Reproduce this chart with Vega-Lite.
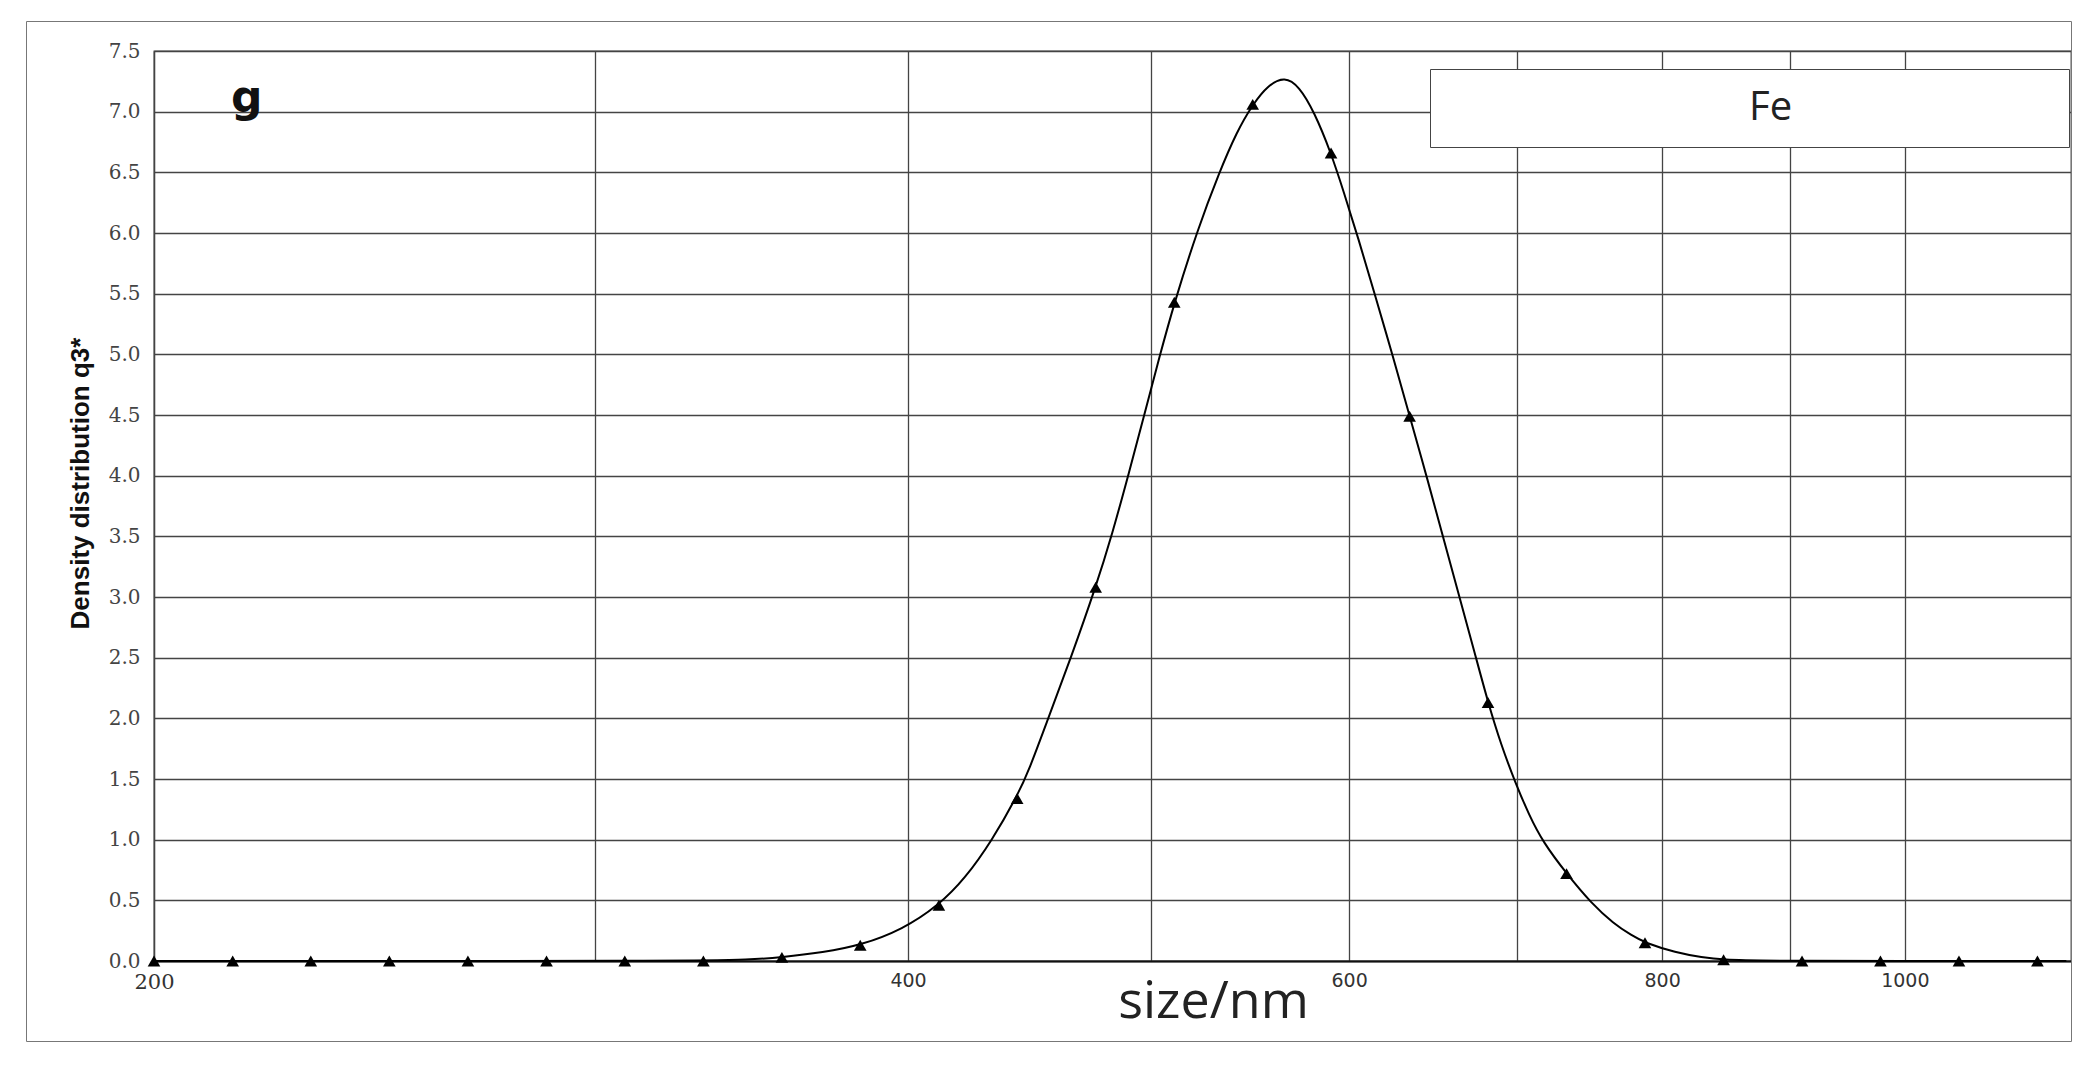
{
  "$schema": "https://vega.github.io/schema/vega-lite/v6.json",
  "width": 1917,
  "height": 910,
  "autosize": {"type": "none"},
  "padding": {"left": 154, "top": 51, "right": 27, "bottom": 108},
  "background": "white",
  "config": {
    "view": {"stroke": "#444", "strokeWidth": 1.3}
  },
  "title": {
    "text": "g",
    "anchor": "start",
    "frame": "group",
    "orient": "top",
    "font": "DejaVu Sans",
    "fontWeight": "bold",
    "fontSize": 44,
    "color": "#111",
    "dx": 77,
    "dy": 135,
    "offset": 0,
    "baseline": "alphabetic"
  },
  "datasets": {
    "curve": [
      {"size": 200, "q3": 0}, {"size": 331, "q3": 0}, {"size": 345, "q3": 0.01},
      {"size": 356, "q3": 0.03}, {"size": 370, "q3": 0.07}, {"size": 383, "q3": 0.13},
      {"size": 398, "q3": 0.26}, {"size": 411.5, "q3": 0.46}, {"size": 421.5, "q3": 0.68},
      {"size": 432, "q3": 0.99}, {"size": 442.2, "q3": 1.36}, {"size": 447, "q3": 1.57},
      {"size": 455, "q3": 2.0}, {"size": 464.6, "q3": 2.5}, {"size": 475.3, "q3": 3.08},
      {"size": 482.6, "q3": 3.52}, {"size": 490, "q3": 4.02}, {"size": 497, "q3": 4.5},
      {"size": 504, "q3": 4.98}, {"size": 511, "q3": 5.43}, {"size": 522, "q3": 6.03},
      {"size": 532.5, "q3": 6.5}, {"size": 541, "q3": 6.83}, {"size": 549.1, "q3": 7.06},
      {"size": 557, "q3": 7.22}, {"size": 565.5, "q3": 7.29}, {"size": 573, "q3": 7.21},
      {"size": 581, "q3": 7.0}, {"size": 590.1, "q3": 6.66}, {"size": 597, "q3": 6.34},
      {"size": 605, "q3": 5.96}, {"size": 614.6, "q3": 5.48}, {"size": 624.7, "q3": 4.98},
      {"size": 634.3, "q3": 4.49}, {"size": 645, "q3": 3.96}, {"size": 655, "q3": 3.45},
      {"size": 664, "q3": 3.0}, {"size": 673, "q3": 2.56}, {"size": 681.7, "q3": 2.13},
      {"size": 690, "q3": 1.78}, {"size": 699, "q3": 1.47}, {"size": 708, "q3": 1.2},
      {"size": 717, "q3": 0.98}, {"size": 732.7, "q3": 0.72}, {"size": 750, "q3": 0.47},
      {"size": 765, "q3": 0.31}, {"size": 778, "q3": 0.21}, {"size": 787.5, "q3": 0.15},
      {"size": 810, "q3": 0.07}, {"size": 830, "q3": 0.03}, {"size": 846.5, "q3": 0.01},
      {"size": 875, "q3": 0}, {"size": 1160, "q3": 0}
    ],
    "markers": [
      {"size": 200, "q3": 0}, {"size": 215, "q3": 0}, {"size": 231, "q3": 0},
      {"size": 248.3, "q3": 0}, {"size": 266.9, "q3": 0}, {"size": 286.9, "q3": 0},
      {"size": 308.3, "q3": 0}, {"size": 331.4, "q3": 0}, {"size": 356.2, "q3": 0.03},
      {"size": 382.8, "q3": 0.13}, {"size": 411.5, "q3": 0.46}, {"size": 442.2, "q3": 1.34},
      {"size": 475.3, "q3": 3.08}, {"size": 510.9, "q3": 5.43}, {"size": 549.1, "q3": 7.06},
      {"size": 590.1, "q3": 6.66}, {"size": 634.3, "q3": 4.49}, {"size": 681.7, "q3": 2.13},
      {"size": 732.7, "q3": 0.72}, {"size": 787.5, "q3": 0.15}, {"size": 846.5, "q3": 0.01},
      {"size": 909.8, "q3": 0}, {"size": 977.8, "q3": 0}, {"size": 1051, "q3": 0},
      {"size": 1129.6, "q3": 0}
    ]
  },
  "encoding": {
    "x": {
      "field": "size",
      "type": "quantitative",
      "scale": {"type": "log", "domain": [200, 1165], "nice": false, "zero": false},
      "axis": {
        "values": [200, 300, 400, 500, 600, 700, 800, 900, 1000],
        "format": "d",
        "labelExpr": "datum.value % 200 == 0 ? datum.label : ''",
        "grid": true,
        "gridColor": "#444",
        "gridWidth": 1.3,
        "ticks": false,
        "domainColor": "#111",
        "domainWidth": 2,
        "labelPadding": 10,
        "labelFont": {"condition": {"test": "datum.value == 200", "value": "DejaVu Serif"}, "value": "DejaVu Sans"},
        "labelFontSize": {"condition": {"test": "datum.value == 200", "value": 21}, "value": 19},
        "labelColor": "#333",
        "labelOverlap": false,
        "labelFlush": false,
        "title": "size/nm",
        "titleFont": "Open Sans",
        "titleFontSize": 52,
        "titleFontWeight": "normal",
        "titleColor": "#222",
        "titleX": 1059,
        "titleY": 56,
        "titleBaseline": "alphabetic",
        "titleAlign": "center"
      }
    },
    "y": {
      "field": "q3",
      "type": "quantitative",
      "scale": {"domain": [0, 7.5], "nice": false},
      "axis": {
        "values": [0, 0.5, 1, 1.5, 2, 2.5, 3, 3.5, 4, 4.5, 5, 5.5, 6, 6.5, 7, 7.5],
        "format": ".1f",
        "grid": true,
        "gridColor": "#444",
        "gridWidth": 1.3,
        "ticks": false,
        "domainColor": "#444",
        "domainWidth": 1.3,
        "labelPadding": 14,
        "labelFont": "DejaVu Serif",
        "labelFontSize": 20,
        "labelColor": "#444",
        "title": "Density distribution q3*",
        "titleFont": "Liberation Sans",
        "titleFontWeight": "bold",
        "titleFontSize": 26,
        "titleColor": "#111",
        "titleAngle": -90,
        "titleX": -74,
        "titleY": 432,
        "titleBaseline": "middle",
        "titleAlign": "center"
      }
    }
  },
  "layer": [
    {
      "data": {"name": "curve"},
      "mark": {"type": "line", "interpolate": "basis", "color": "black", "strokeWidth": 2},
      "encoding": {
        "color": {
          "datum": "Fe",
          "scale": {"range": ["black"]},
          "legend": {
            "orient": "none",
            "legendX": 1276,
            "legendY": 18,
            "title": null,
            "fillColor": "white",
            "strokeColor": "#444",
            "padding": 19,
            "labelFont": "Open Sans",
            "labelFontSize": 40,
            "labelColor": "#222",
            "symbolType": "M0,0H58.1",
            "symbolSize": 400,
            "symbolStrokeWidth": 1,
            "symbolOpacity": 0,
            "labelAlign": "left",
            "labelOffset": 260,
            "labelLimit": 1000
          }
        }
      }
    },
    {
      "data": {"name": "markers"},
      "mark": {"type": "point", "filled": true, "color": "black", "size": 160, "opacity": 1},
      "encoding": {
        "shape": {
          "datum": "outer frame",
          "scale": {"range": ["triangle-up"]},
          "legend": {
            "orient": "none",
            "legendX": -128,
            "legendY": -30,
            "title": null,
            "padding": 0,
            "strokeColor": "#777",
            "symbolType": "stroke",
            "symbolSize": 4182025,
            "symbolStrokeWidth": 0,
            "symbolOpacity": 0,
            "clipHeight": 1020,
            "labelOffset": 0,
            "labelExpr": "''"
          }
        }
      }
    }
  ]
}
